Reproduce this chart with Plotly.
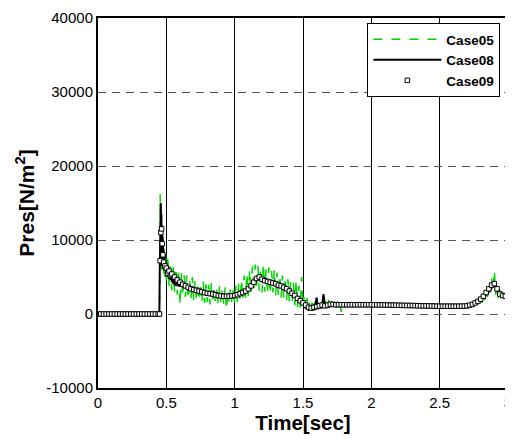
import plotly.graph_objects as go

# ---------------- data ----------------
t05 = [0.0, 0.44, 0.45, 0.452, 0.455, 0.458, 0.46, 0.463, 0.466, 0.47, 0.475, 0.48, 0.485, 0.49, 0.495,
       0.50, 0.51, 0.52, 0.53, 0.54, 0.55, 0.56, 0.57, 0.58, 0.59, 0.60, 0.61, 0.62, 0.63, 0.64, 0.65,
       0.66, 0.67, 0.68, 0.69, 0.70, 0.71, 0.72, 0.73, 0.74, 0.75, 0.76, 0.77, 0.78, 0.79, 0.80, 0.81,
       0.82, 0.83, 0.84, 0.85, 0.86, 0.87, 0.88, 0.89, 0.90, 0.91, 0.92, 0.93, 0.94, 0.95, 0.96, 0.97,
       0.98, 0.99, 1.00, 1.01, 1.02, 1.03, 1.04, 1.05, 1.06, 1.07, 1.08, 1.09, 1.10, 1.11, 1.12, 1.13,
       1.14, 1.15, 1.16, 1.17, 1.18, 1.19, 1.20, 1.21, 1.22, 1.23, 1.24, 1.25, 1.26, 1.27, 1.28, 1.29,
       1.30, 1.31, 1.32, 1.33, 1.34, 1.35, 1.36, 1.37, 1.38, 1.39, 1.40, 1.41, 1.42, 1.43, 1.44, 1.45,
       1.46, 1.47, 1.48, 1.49, 1.50, 1.51, 1.52, 1.53, 1.54, 1.55, 1.56, 1.57, 1.58, 1.59, 1.60, 1.61,
       1.62, 1.63, 1.64, 1.65, 1.66, 1.67, 1.68, 1.69, 1.70, 1.71, 1.72, 1.73, 1.74, 1.75, 1.76, 1.77,
       1.78, 1.79, 1.80, 1.85, 1.90, 2.00, 2.10, 2.20, 2.30, 2.40, 2.50, 2.60, 2.70, 2.75, 2.78, 2.80,
       2.81, 2.82, 2.83, 2.84, 2.85, 2.86, 2.87, 2.88, 2.89, 2.90, 2.91, 2.92, 2.93, 2.94, 2.95, 2.96,
       2.97, 2.98, 2.99, 3.00]
p05 = [0, 0, 200, 9000, 16200, 7000, 13000, 6000, 11000, 7500, 9500, 5500, 9000, 5000, 8500,
       4500, 8000, 3800, 7000, 3200, 6800, 3000, 6300, 2600, 6000, 1200, 5500, 2400, 5400, 2300, 5200,
       2000, 4800, 2100, 5000, 1900, 4500, 1700, 4300, 1800, 4200, 1500, 4400, 1500, 4000, 1600, 3900,
       1300, 4300, 1400, 3700, 1300, 3600, 1400, 3900, 1200, 3500, 1300, 3600, 600, 3300, 1300, 3700,
       1200, 3600, 1500, 3900, 1600, 4300, 1800, 4700, 2000, 5200, 2200, 5500, 2400, 6000, 2800, 6400,
       3000, 6700, 3300, 6500, 3100, 6200, 2900, 6800, 3000, 6100, 2800, 6300, 2700, 5800, 2900, 6000,
       2500, 5600, 2400, 5300, 2200, 5200, 2100, 5000, 1900, 4700, 1700, 4500, 1400, 4200, 1200, 4600,
       1000, 3800, 800, 5000, 900, 2700, 500, 2200, 400, 1900, 700, 2100, 600, 1900, 800, 1800,
       700, 2000, 800, 1900, 900, 1800, 800, 1900, 900, 1700, 1000, 1600, 900, 1700, 1000, 1500,
       300, 1400, 1200, 1250, 1250, 1250, 1200, 1150, 1100, 1100, 1050, 1050, 1100, 1400, 1600, 2300,
       1500, 2900, 1900, 3400, 2300, 4000, 2900, 4800, 3200, 5900, 2600, 3900, 2000, 3300, 1900, 3000,
       2000, 2900, 2100, 2500]

t08 = [0.0, 0.449, 0.452, 0.455, 0.458, 0.46, 0.462, 0.464, 0.466, 0.468, 0.47, 0.472, 0.474, 0.476,
       0.478, 0.48, 0.483, 0.486, 0.49, 0.495, 0.50, 0.505, 0.51, 0.515, 0.52, 0.525, 0.53, 0.535,
       0.54, 0.545, 0.55, 0.555, 0.56, 0.565, 0.57, 0.58, 0.59, 0.60, 0.62, 0.65, 0.70, 0.75, 0.80,
       0.85, 0.90, 0.95, 1.00, 1.05, 1.10, 1.13, 1.16, 1.18, 1.20, 1.25, 1.30, 1.35, 1.40, 1.45, 1.48,
       1.50, 1.51, 1.52, 1.53, 1.54, 1.55, 1.56, 1.57, 1.58, 1.59, 1.60, 1.61, 1.62, 1.63, 1.64, 1.65,
       1.66, 1.68, 1.70, 1.75, 1.80, 2.00, 2.50, 2.70, 2.80, 2.85, 2.88, 2.90, 2.92, 2.95, 3.00]
p08 = [0, 0, 6000, 12000, 9000, 15000, 8000, 13500, 7000, 12000, 6500, 10500, 6500, 9500,
       6000, 8500, 6000, 8000, 5800, 7200, 5300, 6800, 5000, 6400, 4800, 6000, 4600, 5600,
       4300, 5300, 4100, 5000, 3900, 4800, 3800, 4500, 3700, 4200, 3800, 3500, 3200, 2900, 2700,
       2500, 2400, 2300, 2400, 2700, 3300, 4000, 4700, 4900, 4500, 4200, 4000, 3700, 3200, 2500, 2000,
       1400, 1800, 700, 1300, 500, 1000, 600, 1100, 500, 1200, 2200, 700, 1100, 800, 1200, 2700,
       1100, 1400, 1200, 1300, 1250, 1250, 1050, 1100, 1900, 2800, 3600, 4000, 3200, 2700, 2500]

t09 = [0.00, 0.02, 0.04, 0.06, 0.08, 0.10, 0.12, 0.14, 0.16, 0.18, 0.20, 0.22, 0.24, 0.26, 0.28,
       0.30, 0.32, 0.34, 0.36, 0.38, 0.40, 0.42, 0.44, 0.45, 0.455, 0.46, 0.465, 0.47, 0.475, 0.48,
       0.49, 0.50, 0.51, 0.52, 0.53, 0.54, 0.56, 0.58, 0.60, 0.62, 0.64, 0.66, 0.68, 0.70, 0.72, 0.74,
       0.76, 0.78, 0.80, 0.82, 0.84, 0.86, 0.88, 0.90, 0.92, 0.94, 0.96, 0.98, 1.00, 1.02, 1.04, 1.06,
       1.08, 1.10, 1.12, 1.14, 1.16, 1.18, 1.20, 1.22, 1.24, 1.26, 1.28, 1.30, 1.32, 1.34, 1.36, 1.38,
       1.40, 1.42, 1.44, 1.46, 1.48, 1.50, 1.52, 1.54, 1.56, 1.58, 1.60, 1.62, 1.64, 1.66, 1.68, 1.70,
       1.72, 1.74, 1.76, 1.78, 1.80, 1.82, 1.84, 1.86, 1.88, 1.90, 1.92, 1.94, 1.96, 1.98, 2.00, 2.02,
       2.04, 2.06, 2.08, 2.10, 2.12, 2.14, 2.16, 2.18, 2.20, 2.22, 2.24, 2.26, 2.28, 2.30, 2.32, 2.34,
       2.36, 2.38, 2.40, 2.42, 2.44, 2.46, 2.48, 2.50, 2.52, 2.54, 2.56, 2.58, 2.60, 2.62, 2.64, 2.66,
       2.68, 2.70, 2.72, 2.74, 2.76, 2.78, 2.80, 2.82, 2.84, 2.86, 2.88, 2.90, 2.92, 2.94, 2.96, 2.98,
       3.00]
p09 = [0, 0, 0, 0, 0, 0, 0, 0, 0, 0, 0, 0, 0, 0, 0,
       0, 0, 0, 0, 0, 0, 0, 0, 0, 7200, 11000, 11500, 9500, 8000, 7000,
       6500, 6200, 5500, 5800, 5200, 5400, 5000, 4600, 4300, 4000, 3800, 3600, 3400, 3300, 3200, 3100,
       3000, 2900, 2800, 2750, 2700, 2600, 2500, 2450, 2400, 2400, 2400, 2450, 2500, 2600, 2750, 2900,
       3100, 3400, 3800, 4300, 4800, 5000, 4700, 4500, 4400, 4300, 4200, 4100, 3900, 3800, 3600, 3400,
       3100, 2800, 2500, 2100, 1800, 1500, 1200, 900, 800, 900, 1000, 1100, 1200, 1100, 1200, 1300,
       1300, 1250, 1250, 1250, 1250, 1250, 1250, 1250, 1250, 1250, 1250, 1250, 1250, 1250, 1250, 1240,
       1240, 1230, 1230, 1220, 1210, 1200, 1200, 1190, 1180, 1170, 1160, 1150, 1150, 1140, 1130, 1120,
       1110, 1100, 1100, 1090, 1080, 1070, 1060, 1050, 1050, 1050, 1050, 1050, 1050, 1050, 1050, 1060,
       1070, 1100, 1200, 1300, 1500, 1700, 2000, 2400, 2900, 3400, 3900, 4100, 3400, 2700, 2500, 2400,
       2400]

x_ticks = [0, 0.5, 1, 1.5, 2, 2.5, 3]
x_labels = ["0", "0.5", "1", "1.5", "2", "2.5", "3"]
y_ticks = [-10000, 0, 10000, 20000, 30000, 40000]
y_labels = ["-10000", "0", "10000", "20000", "30000", "40000"]

# ---------------- figure ----------------
fig = go.Figure()
fig.add_trace(go.Scatter(x=t05, y=p05, mode="lines", name="Case05",
                         line=dict(color="#00d400", width=1.5, dash="dash")))
fig.add_trace(go.Scatter(x=t08, y=p08, mode="lines", name="Case08",
                         line=dict(color="black", width=2)))
fig.add_trace(go.Scatter(x=t09, y=p09, mode="markers", name="Case09",
                         marker=dict(symbol="square", size=4.5, color="white",
                                     line=dict(color="black", width=1))))

# page body has an 8px margin; figure is sized/offset so the plot box lands at 98..512 x 16..388
font_family = "Liberation Sans, Arial, sans-serif"
fig.update_layout(
    width=505, height=431,
    margin=dict(l=90, r=1, t=8, b=51),
    paper_bgcolor="white", plot_bgcolor="white",
    font=dict(family=font_family, color="black", size=15),
    showlegend=True,
    legend=dict(x=(370 - 98) / 414, y=1 - (21 - 16) / 372, xanchor="left", yanchor="top",
                bgcolor="white", bordercolor="black", borderwidth=1,
                font=dict(size=13.5, weight="bold", family=font_family),
                itemwidth=68, entrywidth=130, entrywidthmode="pixels", tracegroupgap=0),
)
fig.update_xaxes(
    range=[0, 3], tickmode="array", tickvals=x_ticks, ticktext=x_labels,
    showgrid=True, gridcolor="black", gridwidth=1,
    showline=True, linecolor="black", linewidth=2, mirror=True,
    zeroline=False, ticks="", tickfont=dict(size=15), ticklabeloverflow="allow",
    title=dict(text="Time[sec]", font=dict(size=20.5, weight="bold"), standoff=5),
)
fig.update_yaxes(
    range=[-10000, 40000], tickmode="array", tickvals=y_ticks, ticktext=y_labels,
    showgrid=True, gridcolor="#555555", gridwidth=1, griddash="8px,6px",
    showline=True, linecolor="black", linewidth=2, mirror=True,
    zeroline=False, ticks="", tickfont=dict(size=15), ticklabeloverflow="allow",
    title=dict(text="Pres[N/m<sup>2</sup>]", font=dict(size=21, weight="bold"), standoff=6),
)

fig.write_html("out.html")
